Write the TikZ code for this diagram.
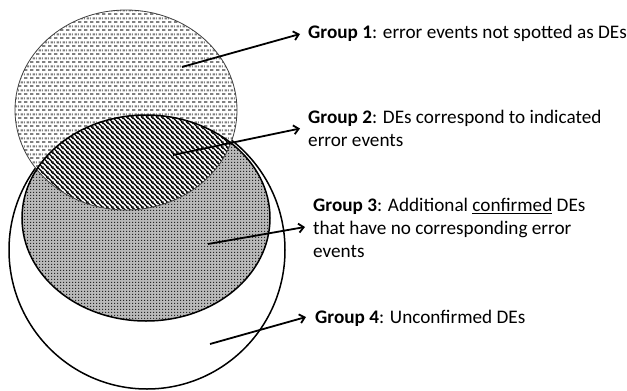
\documentclass[tikz,border=0pt]{standalone}
\usepackage{fontspec}
\setmainfont{Carlito}
\usetikzlibrary{patterns,arrows.meta}
\pgfdeclarepatternformonly{hdashes}{\pgfqpoint{0pt}{0pt}}{\pgfqpoint{6pt}{8pt}}{\pgfqpoint{6pt}{8pt}}{%
  \pgfpathrectangle{\pgfqpoint{0pt}{0pt}}{\pgfqpoint{4pt}{2.2pt}}%
  \pgfpathrectangle{\pgfqpoint{3pt}{4pt}}{\pgfqpoint{3pt}{2.2pt}}%
  \pgfpathrectangle{\pgfqpoint{0pt}{4pt}}{\pgfqpoint{1pt}{2.2pt}}%
  \pgfusepath{fill}}
\pgfdeclarepatternformonly{thicklines}{\pgfqpoint{0pt}{0pt}}{\pgfqpoint{4.6pt}{4.6pt}}{\pgfqpoint{4.6pt}{4.6pt}}{%
  \pgfsetlinewidth{1.4pt}%
  \pgfpathmoveto{\pgfqpoint{-1pt}{5.6pt}}\pgfpathlineto{\pgfqpoint{5.6pt}{-1pt}}%
  \pgfpathmoveto{\pgfqpoint{3.6pt}{5.6pt}}\pgfpathlineto{\pgfqpoint{10.2pt}{-1pt}}%
  \pgfpathmoveto{\pgfqpoint{-5.6pt}{5.6pt}}\pgfpathlineto{\pgfqpoint{1pt}{-1pt}}%
  \pgfusepath{stroke}}
\pgfdeclarepatternformonly{densedots}{\pgfqpoint{0pt}{0pt}}{\pgfqpoint{3pt}{3pt}}{\pgfqpoint{3pt}{3pt}}{%
  \pgfpathrectangle{\pgfqpoint{0pt}{0pt}}{\pgfqpoint{1.6pt}{1.6pt}}%
  \pgfusepath{fill}}
\tikzset{
  label text/.style={anchor=west, inner sep=0pt, align=left, font=\fontsize{19.2}{23}\selectfont},
  pointer/.style={line width=1.8pt, -{Straight Barb[length=5pt,width=9pt]}},
}
\begin{document}
\begin{tikzpicture}[x=1pt,y=-1pt]
\useasboundingbox (0,0) rectangle (627,391);
% outer circle (group 4)
\path[fill=white,draw=black,line width=1.5pt] (147,250) ellipse [x radius=138, y radius=139];
% middle circle (group 3)
\path[fill=gray!55] (146,218) ellipse [x radius=124, y radius=103];
\path[pattern=densedots,pattern color=black!85] (146,218) ellipse [x radius=124, y radius=103];
% top circle (group 1)
\path[fill=white] (126,110) ellipse [x radius=111, y radius=100];
\path[pattern=hdashes,pattern color=gray] (126,110) ellipse [x radius=111, y radius=100];
% intersection (group 2)
\begin{scope}
  \clip (126,110) ellipse [x radius=111, y radius=100];
  \path[fill=white] (146,218) ellipse [x radius=124, y radius=103];
  \path[pattern=thicklines,pattern color=black] (146,218) ellipse [x radius=124, y radius=103];
\end{scope}
\draw[black!75,line width=0.8pt] (126,110) ellipse [x radius=111, y radius=100];
\draw[black,line width=1.5pt] (146,218) ellipse [x radius=124, y radius=103];
% labels
\node[label text] (g1) at (308,33) {\textbf{Group 1}: error events not spotted as DEs};
\node[label text] (g2) at (308,128.5) {\textbf{Group 2}: DEs correspond to indicated\\error events};
\node[label text] (g3) at (313,228) {\textbf{Group 3}: Additional \underline{confirmed} DEs\\that have no corresponding error\\events};
\node[label text] (g4) at (315,318) {\textbf{Group 4}: Unconfirmed DEs};
% arrow starts
\coordinate (s1) at (182,67);
\coordinate (s2) at (173,155);
\coordinate (s3) at (208,244);
\coordinate (s4) at (210,344);
\draw[pointer] (s1) -- ([xshift=-8pt,yshift=-1pt]g1.west);
\draw[pointer] (s2) -- ([xshift=-8pt]g2.west);
\draw[pointer] (s3) -- ([xshift=-8pt,yshift=1pt]g3.west);
\draw[pointer] (s4) -- ([xshift=-9pt,yshift=1pt]g4.west);
\end{tikzpicture}
\end{document}
